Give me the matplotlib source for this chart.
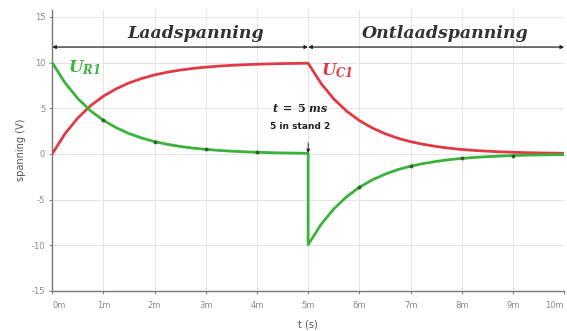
import numpy as np
import matplotlib
matplotlib.use("Agg")
import matplotlib.pyplot as plt

plt.rcParams['mathtext.fontset'] = 'dejavuserif'
plt.rcParams['axes.unicode_minus'] = False

# time in ms, sampled every 0.25 ms
t_charge = [0.0, 0.25, 0.5, 0.75, 1.0, 1.25, 1.5, 1.75, 2.0, 2.25, 2.5,
            2.75, 3.0, 3.25, 3.5, 3.75, 4.0, 4.25, 4.5, 4.75, 5.0]
t_discharge = [5.0, 5.25, 5.5, 5.75, 6.0, 6.25, 6.5, 6.75, 7.0, 7.25, 7.5,
               7.75, 8.0, 8.25, 8.5, 8.75, 9.0, 9.25, 9.5, 9.75, 10.0]

uc_charge = [0.0, 2.21, 3.93, 5.28, 6.32, 7.13, 7.77, 8.26, 8.65, 8.95, 9.18,
             9.36, 9.50, 9.61, 9.70, 9.76, 9.82, 9.86, 9.89, 9.91, 9.93]
ur_charge = [10.0, 7.79, 6.07, 4.72, 3.68, 2.87, 2.23, 1.74, 1.35, 1.05, 0.82,
             0.64, 0.50, 0.39, 0.30, 0.24, 0.18, 0.14, 0.11, 0.09, 0.07]
uc_discharge = [9.93, 7.73, 6.02, 4.69, 3.65, 2.85, 2.22, 1.72, 1.34, 1.05, 0.82,
                0.63, 0.49, 0.38, 0.30, 0.23, 0.18, 0.14, 0.11, 0.09, 0.07]
ur_discharge = [-9.93, -7.73, -6.02, -4.69, -3.65, -2.85, -2.22, -1.72, -1.34, -1.05, -0.82,
                -0.63, -0.49, -0.38, -0.30, -0.23, -0.18, -0.14, -0.11, -0.09, -0.07]

x_ticks = [0, 1, 2, 3, 4, 5, 6, 7, 8, 9, 10]
x_labels = ['0m', '1m', '2m', '3m', '4m', '5m', '6m', '7m', '8m', '9m', '10m']
y_ticks = [-15, -10, -5, 0, 5, 10, 15]

green = '#3bb33b'
red = '#e23a45'

fig = plt.figure(figsize=(5.67, 3.31), dpi=100)
ax = fig.add_axes([0.092, 0.121, 0.903, 0.85])

t_all = t_charge + t_discharge
uc_all = uc_charge + uc_discharge
ur_all = ur_charge + ur_discharge

ax.plot(t_all, uc_all, color=red, lw=2.0, solid_capstyle='round', zorder=3)
ax.plot(t_all, ur_all, color=green, lw=2.0, solid_capstyle='round', zorder=4)

# small sample dots on the resistor curve
dot_idx = [4, 8, 12, 16]
ax.plot([t_charge[i] for i in dot_idx], [ur_charge[i] for i in dot_idx], 'o',
        ms=1.8, color='#2f5f2f', zorder=5)
ax.plot([t_discharge[i] for i in dot_idx], [ur_discharge[i] for i in dot_idx], 'o',
        ms=1.8, color='#2f5f2f', zorder=5)

ax.set_xlim(0, 10)
ax.set_ylim(-15, 15.8)
ax.set_xticks(x_ticks)
ax.set_xticklabels(x_labels)
ax.set_yticks(y_ticks)
ax.grid(True, color='#e4e4e4', lw=0.7)
ax.set_axisbelow(True)
for s in ['top', 'right']:
    ax.spines[s].set_visible(False)
for s in ['left', 'bottom']:
    ax.spines[s].set_color('#777777')
    ax.spines[s].set_linewidth(1.0)
ax.tick_params(axis='both', labelsize=6, colors='#888888', length=2, pad=3)
ax.tick_params(axis='x', pad=5)
xt = ax.get_xticklabels()
xt[0].set_ha('left')
xt[-1].set_ha('right')
ax.set_xlabel('t (s)', fontsize=7, color='#555555', labelpad=7)
ax.set_ylabel('spanning (V)', fontsize=7, color='#555555', labelpad=4)

# phase arrows on top
arr = dict(arrowstyle='<|-|>', color='#222222', lw=0.9, mutation_scale=5,
           shrinkA=0, shrinkB=0)
ax.annotate('', xy=(0, 11.7), xytext=(5, 11.7), arrowprops=arr, annotation_clip=False)
ax.annotate('', xy=(5, 11.7), xytext=(10, 11.7), arrowprops=arr, annotation_clip=False)
ax.text(2.81, 12.3, 'Laadspanning', fontsize=12.5, family='DejaVu Serif',
        style='italic', weight='bold', color='#333333', ha='center', va='bottom')
ax.text(7.68, 12.3, 'Ontlaadspanning', fontsize=12.5, family='DejaVu Serif',
        style='italic', weight='bold', color='#333333', ha='center', va='bottom')

ax.text(0.3, 9.4, r'$\mathbfit{U}_{\mathbfit{R1}}$', fontsize=12, color=green,
        ha='left', va='center')
ax.text(5.25, 9.1, r'$\mathbfit{U}_{\mathbfit{C1}}$', fontsize=12, color=red,
        ha='left', va='center')

ax.text(4.85, 5.0, r'$\mathbfit{t}\ \mathbf{=}\ \mathbf{5}\ \mathbfit{ms}$', fontsize=8,
        color='#222222', ha='center', va='center')
ax.text(4.85, 3.0, '5 in stand 2', fontsize=6.5, weight='bold', color='#222222',
        ha='center', va='center')
ax.annotate('', xy=(5, 0.1), xytext=(5, 1.2),
            arrowprops=dict(arrowstyle='-|>', color='#222222', lw=0.7,
                            mutation_scale=5, shrinkA=0, shrinkB=0), zorder=6)

fig.savefig('out.png', dpi=100)
